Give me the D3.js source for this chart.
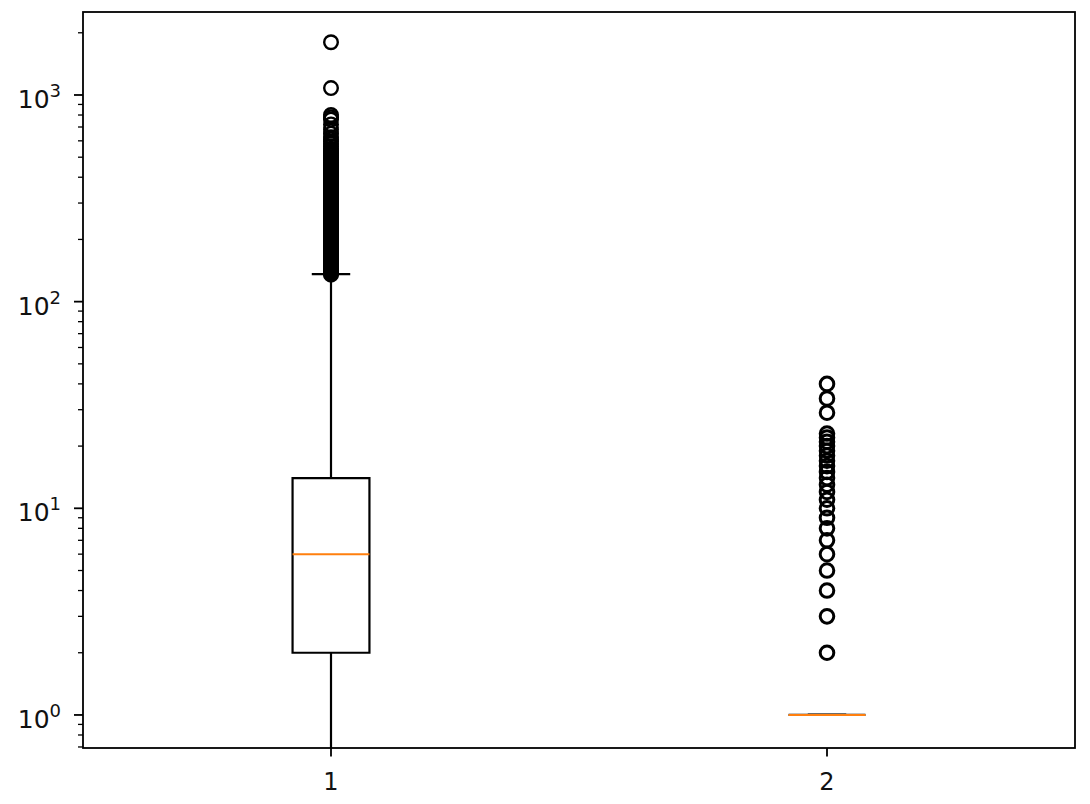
<!DOCTYPE html>
<html><head><meta charset="utf-8">
<script src="https://cdn.jsdelivr.net/npm/d3@7"></script>
<style>body{margin:0;background:#fff}</style>
</head><body><svg id="c" width="1090" height="804"></svg>
<script>
const categories = [1, 2];
const q1 = [2, 1];
const medians = [6, 1];
const q3 = [14, 1];
const whiskerLow = [0, 1];
const whiskerHigh = [136, 1];
const outliers1 = [135,137,139,141,143,145,147,149,151,153,155,157,159,161,163,165,167,169,171,173,175,177,179,181,183,185,187,189,191,193,195,197,199,202,205,208,211,214,217,220,223,226,229,232,235,238,241,244,247,250,254,258,262,266,270,274,278,282,286,290,295,300,305,310,315,320,325,330,335,340,346,352,358,364,370,376,382,388,395,402,409,416,423,430,438,446,454,462,470,480,490,500,510,520,530,540,550,565,580,595,610,625,650,680,720,760,780,800,1080,1800];
const outliers2 = [2,3,4,5,6,7,8,9,10,11,12,13,14,15,16,17,18,19,20,21,22,23,29,34,40];
const outliers = [outliers1, outliers2];
const yMajorTicks = [1, 10, 100, 1000];
const yMajorExponents = ["0", "1", "2", "3"];

const svg = d3.select("#c");
const L = 83, R = 1075, T = 12, B = 748;
const x = d3.scaleLinear().domain([0.5, 2.5]).range([L, R]);
const y = d3.scaleLog().domain([0.692, 2521]).range([B, T]).clamp(true);
const boxHalf = 0.0775;
const ink = "#000";
const fontFam = "'DejaVu Sans', sans-serif";
const inDomain = v => v >= y.domain()[0] && v <= y.domain()[1];

svg.append("defs").append("clipPath").attr("id", "clip")
  .append("rect").attr("x", L).attr("y", T).attr("width", R - L).attr("height", B - T);

const g = svg.append("g").attr("clip-path", "url(#clip)");

categories.forEach((c, i) => {
  const cx = x(c), x0 = x(c - boxHalf), x1 = x(c + boxHalf);
  const cx0 = x(c - boxHalf / 2), cx1 = x(c + boxHalf / 2);
  // whiskers
  g.append("line").attr("x1", cx).attr("x2", cx).attr("y1", y(q1[i])).attr("y2", y(whiskerLow[i]))
    .attr("stroke", ink).attr("stroke-width", 2.2);
  g.append("line").attr("x1", cx).attr("x2", cx).attr("y1", y(q3[i])).attr("y2", y(whiskerHigh[i]))
    .attr("stroke", ink).attr("stroke-width", 2.2);
  // caps (only when inside the visible range)
  [whiskerLow[i], whiskerHigh[i]].filter(inDomain).forEach(v => {
    g.append("line").attr("x1", cx0).attr("x2", cx1).attr("y1", y(v)).attr("y2", y(v))
      .attr("stroke", ink).attr("stroke-width", 2.2);
  });
  // box as closed path (renders even when q1 == q3)
  const p = d3.path();
  p.moveTo(x0, y(q1[i])); p.lineTo(x1, y(q1[i])); p.lineTo(x1, y(q3[i])); p.lineTo(x0, y(q3[i])); p.closePath();
  g.append("path").attr("d", p.toString())
    .attr("fill", "none").attr("stroke", ink).attr("stroke-width", 2.2).attr("stroke-linejoin", "miter");
  // median
  g.append("line").attr("x1", x0).attr("x2", x1).attr("y1", y(medians[i])).attr("y2", y(medians[i]))
    .attr("stroke", "#ff7f0e").attr("stroke-width", 2);
  // outliers
  g.selectAll(null).data(outliers[i]).enter().append("circle")
    .attr("cx", cx).attr("cy", d => y(d)).attr("r", 6.8)
    .attr("fill", "none").attr("stroke", ink).attr("stroke-width", i === 1 ? 3 : 2.4);
});

// frame
svg.append("rect").attr("x", L).attr("y", T).attr("width", R - L).attr("height", B - T)
  .attr("fill", "none").attr("stroke", ink).attr("stroke-width", 1.8);

// x ticks
categories.forEach(c => {
  svg.append("line").attr("x1", x(c)).attr("x2", x(c)).attr("y1", B).attr("y2", B + 8.5)
    .attr("stroke", ink).attr("stroke-width", 1.8);
  svg.append("text").attr("x", x(c)).attr("y", B + 42).attr("text-anchor", "middle")
    .attr("font-family", fontFam).attr("font-size", 24).attr("fill", "#111").text(String(c));
});

// y minor ticks
y.ticks().filter(t => !yMajorTicks.includes(t)).forEach(t => {
  svg.append("line").attr("x1", L - 5).attr("x2", L).attr("y1", y(t)).attr("y2", y(t))
    .attr("stroke", ink).attr("stroke-width", 1.3);
});
// y major ticks
yMajorTicks.forEach((t, i) => {
  svg.append("line").attr("x1", L - 9).attr("x2", L).attr("y1", y(t)).attr("y2", y(t))
    .attr("stroke", ink).attr("stroke-width", 1.8);
  const tx = svg.append("text").attr("x", 61).attr("y", y(t) + 13).attr("text-anchor", "end")
    .attr("font-family", fontFam).attr("font-size", 25).attr("fill", "#111");
  tx.append("tspan").text("10");
  tx.append("tspan").attr("dy", -11).attr("font-size", 18).text(yMajorExponents[i]);
});
</script></body></html>
